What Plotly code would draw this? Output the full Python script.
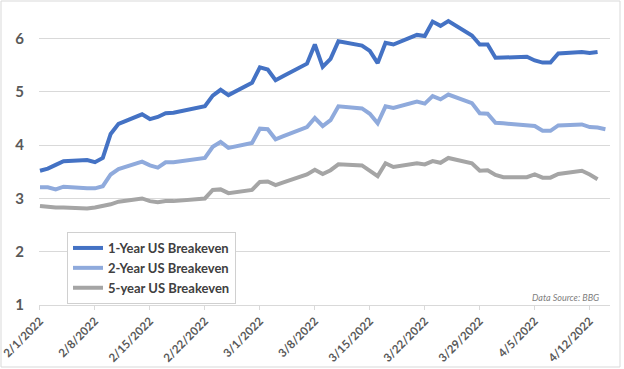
import plotly.graph_objects as go

dates = [
    "2022-02-01", "2022-02-02", "2022-02-03", "2022-02-04",
    "2022-02-07", "2022-02-08", "2022-02-09", "2022-02-10", "2022-02-11",
    "2022-02-14", "2022-02-15", "2022-02-16", "2022-02-17", "2022-02-18",
    "2022-02-22", "2022-02-23", "2022-02-24", "2022-02-25",
    "2022-02-28", "2022-03-01", "2022-03-02", "2022-03-03", "2022-03-04",
    "2022-03-07", "2022-03-08", "2022-03-09", "2022-03-10", "2022-03-11",
    "2022-03-14", "2022-03-15", "2022-03-16", "2022-03-17", "2022-03-18",
    "2022-03-21", "2022-03-22", "2022-03-23", "2022-03-24", "2022-03-25",
    "2022-03-28", "2022-03-29", "2022-03-30", "2022-03-31", "2022-04-01",
    "2022-04-04", "2022-04-05", "2022-04-06", "2022-04-07", "2022-04-08",
    "2022-04-11", "2022-04-12", "2022-04-13", "2022-04-14",
]

one_year = [
    3.52, 3.56, 3.63, 3.70,
    3.72, 3.68, 3.76, 4.21, 4.40,
    4.58, 4.49, 4.53, 4.60, 4.61,
    4.73, 4.93, 5.04, 4.94,
    5.17, 5.46, 5.42, 5.22, 5.30,
    5.53, 5.89, 5.47, 5.62, 5.95,
    5.87, 5.77, 5.54, 5.92, 5.89,
    6.07, 6.05, 6.32, 6.24, 6.33,
    6.06, 5.89, 5.89, 5.64, 5.645,
    5.66, 5.59, 5.55, 5.55, 5.72,
    5.75, 5.73, 5.75, None,
]

two_year = [
    3.21, 3.21, 3.17, 3.22,
    3.19, 3.19, 3.23, 3.45, 3.55,
    3.69, 3.62, 3.58, 3.68, 3.68,
    3.76, 3.97, 4.06, 3.95,
    4.04, 4.31, 4.30, 4.11, 4.17,
    4.34, 4.51, 4.36, 4.47, 4.73,
    4.69, 4.59, 4.41, 4.73, 4.70,
    4.82, 4.78, 4.92, 4.86, 4.95,
    4.79, 4.60, 4.59, 4.42, 4.41,
    4.38, 4.36, 4.27, 4.27, 4.37,
    4.39, 4.34, 4.33, 4.30,
]

five_year = [
    2.86, 2.84, 2.83, 2.83,
    2.81, 2.83, 2.86, 2.89, 2.94,
    3.00, 2.95, 2.93, 2.95, 2.95,
    3.00, 3.16, 3.17, 3.10,
    3.16, 3.31, 3.32, 3.25, 3.30,
    3.45, 3.54, 3.46, 3.53, 3.64,
    3.62, 3.53, 3.42, 3.66, 3.59,
    3.66, 3.64, 3.70, 3.67, 3.76,
    3.66, 3.52, 3.53, 3.44, 3.40,
    3.40, 3.45, 3.39, 3.39, 3.46,
    3.52, 3.45, 3.36, None,
]

series_names = ["1-Year US Breakeven", "2-Year US Breakeven", "5-year US Breakeven"]
series_colors = ["#4472C4", "#8FAADC", "#A5A5A5"]
y_ticks = [1, 2, 3, 4, 5, 6]

fig = go.Figure()
for name, vals, col in zip(series_names, [one_year, two_year, five_year], series_colors):
    fig.add_trace(go.Scatter(
        x=dates, y=vals, name=name, mode="lines",
        line=dict(color=col, width=4), connectgaps=False,
    ))

W, H = 624, 369
ml, mr, mt, mb = 39, 14, 12, 64
pw, ph = W - ml - mr, H - mt - mb

def px2paper_x(px):
    return (px - ml) / pw

def px2paper_y(py):
    return (H - mb - py) / ph

fig.update_layout(
    width=W, height=H,
    margin=dict(l=ml, r=mr, t=mt, b=mb, pad=0, autoexpand=False),
    paper_bgcolor="white", plot_bgcolor="white",
    font=dict(family="Lato, Carlito, Open Sans, sans-serif", color="#595959"),
    showlegend=True,
    legend=dict(
        x=px2paper_x(67), y=px2paper_y(232), xanchor="left", yanchor="top",
        bgcolor="white", bordercolor="#D0D0D0", borderwidth=1,
        font=dict(size=13, color="#404040", weight="bold"),
        tracegroupgap=0, itemwidth=30,
    ),
    xaxis=dict(
        type="date", automargin=False, ticklabeloverflow="allow",
        range=["2022-01-31 21:00", "2022-04-14 14:00"],
        tick0="2022-02-01", dtick=7 * 24 * 3600 * 1000,
        tickformat="%-m/%-d/%Y", tickangle=-45,
        tickfont=dict(size=11.5, color="#595959", weight="bold"),
        showgrid=False, showline=True, linecolor="#D9D9D9", linewidth=1,
        ticks="outside", ticklen=4, tickcolor="#D9D9D9",
        zeroline=False,
    ),
    yaxis=dict(
        automargin=False,
        range=[1, 6.5], tickvals=y_ticks,
        tickfont=dict(size=15, color="#595959", weight="bold"),
        showgrid=True, gridcolor="#D9D9D9", gridwidth=1,
        showline=False, zeroline=False, ticks="",
        ticklabelstandoff=14,
    ),
    shapes=[
        dict(type="rect", xref="paper", yref="paper",
             x0=px2paper_x(1), x1=px2paper_x(620), y0=px2paper_y(367), y1=px2paper_y(1),
             line=dict(color="#D9D9D9", width=1), fillcolor="rgba(0,0,0,0)", layer="below"),
    ],
    annotations=[
        dict(text="Data Source: BBG", xref="paper", yref="paper",
             x=px2paper_x(601), y=px2paper_y(297), xanchor="right", yanchor="middle",
             showarrow=False, font=dict(size=9, color="#808080", style="italic")),
    ],
)

fig.write_html(
    "out.html",
    config={"displayModeBar": False, "staticPlot": True},
    post_script="document.body.style.margin='0';document.body.style.padding='0';",
)
